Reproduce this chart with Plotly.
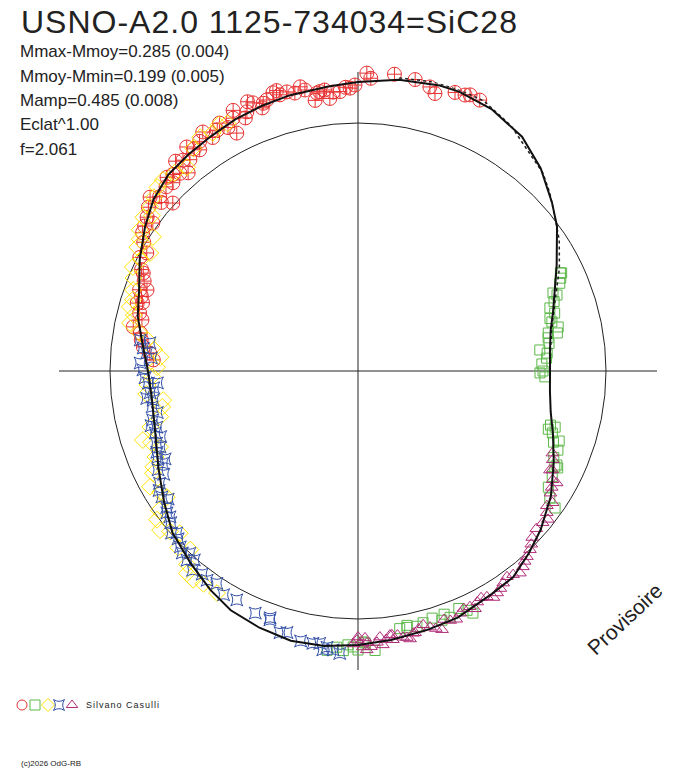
import plotly.graph_objects as go

# the page body adds an 8 px margin, so the figure is 8 px smaller on each side
OFF = 8
W, H = 688 - OFF, 768 - OFF
CX, CY, R_PX = 358, 371, 299   # centre of the polar plot and its radius, in screen pixels

title = "USNO-A2.0 1125-734034=SiC28"
stats = ["Mmax-Mmoy=0.285 (0.004)", "Mmoy-Mmin=0.199 (0.005)",
         "Mamp=0.485 (0.008)", "Eclat^1.00", "f=2.061"]
author = "Silvano Casulli"
credit = "(c)2026 OdG-RB"
stamp = "Provisoire"
mean_r = 248   # radius of the mean-magnitude circle

# mean light curve, angle in degrees (0 = east, counterclockwise), radius in plot units
curve_theta = [-180, -172, -163, -154, -146, -139, -131, -124, -118, -111, -104, -97,
               -90, -83, -75, -68, -59, -53, -47, -41, -33, -25, -18, -12, -6, 0,
               6, 12, 17, 23, 28, 36, 41, 48, 55, 63, 70, 74, 82, 90, 96, 104, 110,
               116, 122, 128, 134, 140, 146, 153, 160, 166, 173, 180]
curve_r = [210, 208, 212, 222, 234, 246, 255, 264, 271, 275, 278, 277,
           274, 271, 268, 266, 260, 258, 250, 242, 230, 216, 205, 197, 193, 192,
           193, 197, 204, 214, 225, 246, 257, 273, 286, 294, 297, 297, 294, 289, 286, 284, 282,
           280, 277, 275, 273, 267, 257, 245, 233, 227, 217, 210]

# second fitted strand, upper right
fit2_theta = [82, 75, 70, 65, 58, 51, 47, 43, 38, 33, 27, 20, 12, 5, 0]
fit2_r = [296, 299, 299, 298, 289, 276, 271, 262, 250, 240, 226, 210, 198, 193, 192]

red_theta = [67.9, 70.8, 74.5, 73.4, 77.1, 81.1, 84.9, 86.8, 88.3, 90.6, 93.7, 97.8,
             100.7, 91.6, 95.1, 98.4, 101.5, 104.3, 107.0, 108.6, 111.4, 113.2, 115.6,
             120.3, 123.0, 125.6, 127.4, 129.7, 132.0, 134.5, 134.6, 138.7, 140.1, 143.9,
             144.2, 147.3, 150.8, 155.5, 159.0, 137.8, 165.1, 168.9, 170.1, 173.6, 175.1,
             176.9, 162.9, 162.4, 154.9, 159.6, 105.8, 110.0, 114.0, 118.1, 99.0, 95.9,
             130.6, 117.0, 65.8, 68.8,
             92.5, 96.8, 102.8, 106.2, 109.5, 112.3, 116.3, 119.2, 121.9, 124.6, 126.4,
             128.5, 131.0, 133.3, 136.2, 139.4, 142.0, 145.8, 149.0, 152.5, 157.2, 161.0,
             166.7, 171.8, 78.9, 83.0, 87.5, 72.0, 75.8]
red_r = [298, 295, 288, 304, 301, 305, 302, 304, 298, 286, 280, 282,
         286, 283, 280, 281, 290, 288, 291, 286, 288, 282, 289,
         279, 285, 272, 282, 274, 266, 264, 272, 264, 271, 261,
         253, 256, 242, 236, 226, 250, 226, 229, 221, 216, 209,
         205, 231, 226, 239, 233, 287, 280, 277, 276, 274, 274,
         261, 267, 297, 296,
         284, 283, 285, 292, 284, 291, 282, 284, 275, 279, 276,
         270, 278, 270, 266, 259, 266, 258, 250, 246, 232, 229,
         222, 219, 297, 299, 293, 300, 293]

green_theta = [25.7, 23.5, 21.8, 20.9, 18.2, 16.4, 14.2, 12.4, 11.3, 10.8, 9.9, 6.6,
               5.4, 3.9, -0.6, -1.8, -15.7, -15.9, -17.7, -20.0, -21.6, -25.3, -26.0,
               -25.9, -31.4, -33.5, -34.8, -64.6, -65.5, -69.5, -71.4, -73.3, -75.5,
               -79.2, -80.8, -86.5, -88.9, -91.0, -96.3, -94.4, -92.1, -88.5, -79.1,
               25.9, 0.0,
               24.6, 19.5, 15.3, 8.2, 2.2, -17.0, -19.2, -23.8, -28.5, -67.0, -77.0,
               -90.0, -93.0, -70.5]
green_r = [226, 220, 210, 213, 202, 205, 200, 205, 194, 203, 193, 183,
           190, 189, 182, 187, 200, 205, 204, 208, 215, 220, 219,
           222, 223, 230, 240, 268, 263, 263, 263, 258, 260,
           261, 261, 280, 271, 276, 281, 277, 274, 272, 259,
           225, 185,
           223, 208, 199, 193, 184, 199, 213, 214, 221, 258, 262,
           279, 280, 258]

yellow_theta = [117.8, 121.4, 124.0, 130.0, 135.6, 137.5, 141.7, 144.4, 147.1, 150.7,
                155.2, 160.2, 150.4, 146.8, 164.3, 168.1, 171.6, 176.0, 178.9, -176.2,
                -171.5, -169.6, -164.9, -162.2, -159.0, -154.9, -153.5, -150.9, -143.5,
                -141.2, -137.7, -130.2, -128.3, -122.4, -133.2, -146.6,
                119.5, 126.5, 132.8, 139.6, 143.0, 148.9, 152.8, 157.5, 162.4, 166.0,
                170.0, 174.0, -178.5, -173.8, -167.0, -161.0, -157.0, -148.5, -145.0,
                -139.5, -135.5, -131.5, -126.0]
yellow_r = [280, 279, 282, 266, 273, 272, 265, 264, 260, 253,
            248, 239, 239, 245, 237, 233, 213, 198, 201, 211,
            197, 199, 215, 226, 212, 226, 229, 238, 250,
            254, 241, 265, 266, 263, 245, 229,
            283, 277, 270, 268, 258, 255, 244, 243, 236, 231,
            222, 205, 206, 213, 203, 219, 220, 232, 243,
            247, 252, 258, 263]

blue_theta = [171.9, 177.9, 179.7, -176.7, -174.0, -170.1, -166.6, -163.0, -160.3,
              -156.7, -153.7, -150.5, -147.3, -144.5, -142.2, -139.0, -135.3, -132.1,
              -129.7, -125.8, -123.6, -117.9, -109.5, -106.6, 172.3, 175.1, -176.6,
              -171.9, -164.4, -159.0, -154.7, -143.4, -138.2, -132.7, -109.6, -105.2,
              -98.0, -95.1, -96.4, -93.7, -99.4,
              173.9, 176.4, -178.2, -175.3, -172.6, -168.3, -165.2, -161.6, -158.0,
              -155.5, -152.0, -149.0, -146.0, -141.0, -137.0, -134.0, -130.9, -127.5,
              -121.0, -113.0, -102.0, -97.2]
blue_r = [220, 218, 215, 210, 209, 209, 211, 212, 214,
          218, 223, 228, 233, 235, 238, 247, 250, 255,
          259, 258, 255, 259, 264, 273, 210, 212, 201,
          207, 209, 212, 216, 238, 243, 248, 262, 271,
          275, 280, 278, 283, 276,
          216, 207, 213, 205, 213, 205, 214, 208, 217,
          212, 220, 232, 229, 241, 246, 253, 250, 256,
          261, 263, 276, 281]

magenta_theta = [-22.9, -27.3, -29.2, -29.4, -32.4, -34.1, -36.9, -39.4, -43.7, -46.1,
                 -47.7, -49.9, -51.3, -54.1, -55.6, -57.9, -60.3, -62.7, -64.6, -67.1,
                 -69.7, -72.0, -74.3, -75.6, -78.1, -80.4, -82.6, -82.7, -86.0, -88.1,
                 -89.6, -90.2, -89.0, -90.0, -88.5, -83.1, -88.2, -84.8, -79.6, -77.7,
                 -27.0,
                 -24.5, -31.0, -35.5, -38.0, -41.5, -45.0, -48.8, -52.7, -56.8, -59.1,
                 -61.5, -63.8, -66.0, -68.4, -70.9, -73.2, -76.8, -79.0, -81.5, -84.0,
                 -85.3, -87.3, -91.0]
magenta_r = [211, 216, 223, 228, 228, 235, 236, 239, 241, 248,
             251, 256, 259, 254, 257, 262, 260, 260, 261, 263,
             266, 272, 266, 262, 268, 270, 271, 266, 272, 272,
             272, 269, 276, 266, 267, 266, 279, 275, 271, 268,
             218,
             214, 226, 232, 241, 238, 245, 253, 256, 260, 264,
             258, 265, 260, 267, 263, 269, 265, 273, 267, 270,
             267, 276, 273]

FONT = "Liberation Sans, Arial, sans-serif"
INK = "#222222"


def px(x):
    return (x - OFF) / W


def py(y):
    return 1 - (y - OFF) / H


def spaced(s, gap=1):
    return '<span style="letter-spacing:%spx">%s</span>' % (gap, s)


series = [
    (red_theta, red_r, "circle-cross-open", 14, "#e83232"),
    (green_theta, green_r, "square-open", 10, "#5cb848"),
    (yellow_theta, yellow_r, "diamond-open", 13, "#ffe400"),
    (blue_theta, blue_r, "star-square-open", 11, "#3350a8"),
    (magenta_theta, magenta_r, "triangle-up-open", 11, "#b02d78"),
]

fig = go.Figure()
for th, r, sym, size, col in series:
    fig.add_trace(go.Scatterpolar(
        theta=th, r=r, mode="markers", cliponaxis=False,
        marker=dict(symbol=sym, size=size, color=col, line=dict(width=1, color=col))))

fig.add_trace(go.Scatterpolar(theta=fit2_theta, r=fit2_r, mode="lines",
                              line=dict(color=INK, width=1.5, dash="dot")))
fig.add_trace(go.Scatterpolar(theta=curve_theta, r=curve_r, mode="lines",
                              line=dict(color="#111111", width=2)))

# legend symbols at the bottom, drawn on a hidden pixel-sized cartesian layer
leg_x = [22, 35, 48, 59, 72]
for (th, r, sym, size, col), lx in zip(series, leg_x):
    fig.add_trace(go.Scatter(x=[lx - OFF], y=[705 - OFF], mode="markers", cliponaxis=False,
                             marker=dict(symbol=sym.replace("-cross", ""), size=10, color=col,
                                         line=dict(width=1, color=col))))

ann = [dict(text=spaced(title), x=px(19), y=py(22), xanchor="left", yanchor="middle",
            font=dict(size=32, family=FONT, color=INK))]
for i, s in enumerate(stats):
    ann.append(dict(text=s, x=px(18), y=py(51.5 + i * 24.5), xanchor="left",
                    yanchor="middle", font=dict(size=17, family=FONT, color=INK)))
ann.append(dict(text=spaced(author), x=px(84), y=py(705), xanchor="left", yanchor="middle",
                font=dict(size=9, family=FONT, color=INK)))
ann.append(dict(text=credit, x=px(19), y=py(763), xanchor="left", yanchor="middle",
                font=dict(size=8, family=FONT, color=INK)))
ann.append(dict(text=stamp, x=px(624), y=py(619), xanchor="center", yanchor="middle",
                textangle=-43, font=dict(size=21, family=FONT, color=INK)))
for a in ann:
    a.update(xref="paper", yref="paper", showarrow=False)

fig.update_layout(
    width=W, height=H, margin=dict(l=0, r=0, t=0, b=0),
    paper_bgcolor="white", plot_bgcolor="rgba(0,0,0,0)",
    showlegend=False, annotations=ann,
    polar=dict(
        domain=dict(x=[px(CX - R_PX), px(CX + R_PX)],
                    y=[py(CY + R_PX), py(CY - R_PX)]),
        bgcolor="rgba(0,0,0,0)",
        radialaxis=dict(range=[0, R_PX], tickvals=[mean_r], showticklabels=False,
                        ticks="", showline=False, gridcolor=INK, gridwidth=1),
        angularaxis=dict(rotation=0, direction="counterclockwise",
                         tickvals=[0, 90, 180, 270], showticklabels=False, ticks="",
                         showline=False, gridcolor=INK, gridwidth=1),
    ),
    xaxis=dict(range=[0, W], visible=False, domain=[0, 1], fixedrange=True),
    yaxis=dict(range=[H, 0], visible=False, domain=[0, 1], fixedrange=True),
)

fig.write_html("out.html")
